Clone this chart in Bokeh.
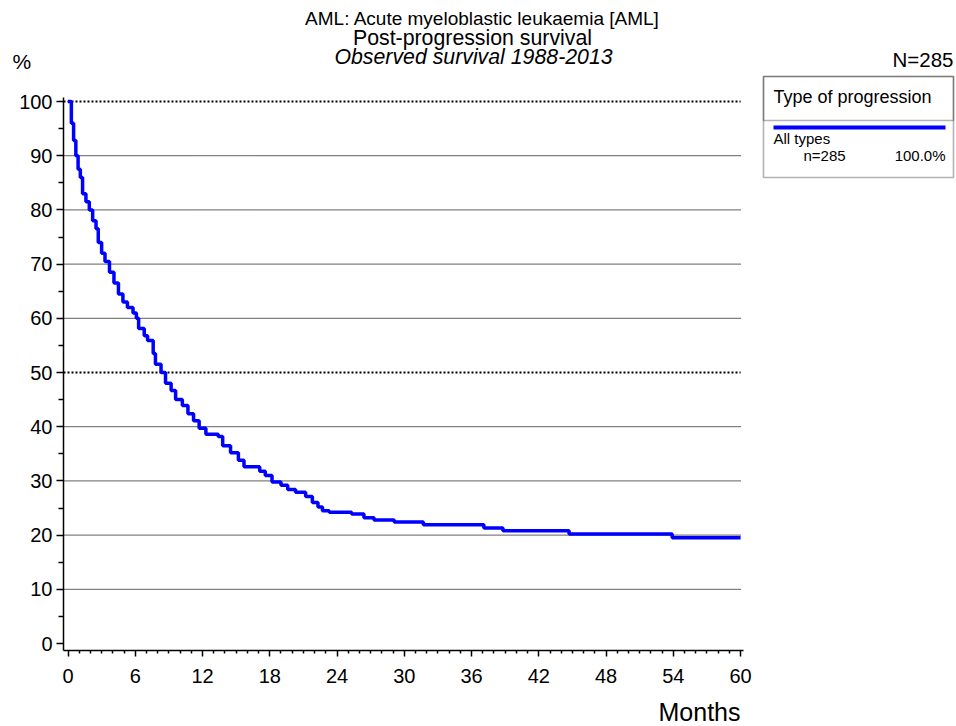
from bokeh.plotting import figure
from bokeh.models import Range1d, FixedTicker, Label, BoxAnnotation, LinearAxis, ColumnDataSource
from bokeh.embed import file_html
from bokeh.resources import INLINE

# ---------------- data ----------------
months = [0, 0.3, 0.5, 0.7, 0.9, 1.1, 1.3, 1.6, 1.9, 2.2, 2.5, 2.7, 3.0, 3.3, 3.7, 4.1, 4.5, 4.9,
          5.3, 5.8, 6.1, 6.3, 6.8, 7.1, 7.6, 7.8, 8.3, 8.7, 9.2, 9.6, 10.2, 10.7, 11.2, 11.7,
          12.3, 13.4, 13.8, 14.5, 15.2, 15.7, 17.1, 17.6, 18.2, 19.0, 19.6, 20.3, 21.2, 21.8,
          22.3, 22.7, 23.3, 25.3, 26.4, 27.3, 29.1, 31.7, 37.1, 38.8, 44.7, 53.9, 60.0]
survival = [100, 96, 92.8, 90, 87.5, 86, 83, 81.5, 80, 78, 76.5, 74, 72, 70.5, 68.5, 66.5, 64.5, 63,
            62, 61, 60, 58.1, 56.8, 55.9, 53.5, 51.5, 50, 48, 46.7, 45, 43.9, 42.4, 41.1, 39.7,
            38.6, 38.2, 36.5, 35.2, 33.8, 32.6, 31.8, 31.0, 29.8, 29.2, 28.4, 27.9, 27.1, 26.0,
            25.2, 24.5, 24.2, 23.9, 23.2, 22.8, 22.4, 21.9, 21.3, 20.8, 20.2, 19.5, 19.5]

y_major_ticks = list(range(0, 101, 10))
y_minor_ticks = list(range(5, 100, 10))
x_major_ticks = list(range(0, 61, 6))
x_minor_ticks = [m for m in range(0, 61) if m % 6]
grid_regular = [10, 20, 30, 40, 60, 70, 80, 90]
grid_bold = [50, 100]

title_lines = ["AML: Acute myeloblastic leukaemia [AML]",
               "Post-progression survival",
               "Observed survival 1988-2013"]
n_total = 285
legend_title = "Type of progression"
group_name = "All types"
group_n = 285
group_pct = 100.0
x_label = "Months"
y_label = "%"

# ---------------- layout (pixel geometry of the page) ----------------
FONT = "Liberation Sans"
W, H = 956, 726
PX0, PXS = 67.5, 11.21      # x pixel of month 0, pixels per month
PY0, PYS = 643.0, 5.42      # y pixel of 0 %, pixels per percent


def dx(sx):
    return (sx - PX0) / PXS


def dy(sy):
    return (PY0 - sy) / PYS


p = figure(width=W, height=H,
           x_range=Range1d(dx(0), dx(W)), y_range=Range1d(dy(H), dy(0)),
           output_backend="svg", toolbar_location=None,
           min_border_left=0, min_border_right=0, min_border_top=0, min_border_bottom=0,
           x_axis_type=None, y_axis_type=None)
p.outline_line_color = None
p.background_fill_color = "white"
p.border_fill_color = "white"
for g in p.grid:
    g.visible = False

# axes (placed inside the canvas at fixed locations)
xaxis = LinearAxis(ticker=FixedTicker(ticks=x_major_ticks, minor_ticks=x_minor_ticks),
                   fixed_location=dy(650), bounds=(dx(63), dx(743)))
yaxis = LinearAxis(ticker=FixedTicker(ticks=y_major_ticks, minor_ticks=y_minor_ticks),
                   fixed_location=dx(63), bounds=(dy(650), dy(97)))
for ax in (xaxis, yaxis):
    ax.axis_line_color = "black"
    ax.axis_line_width = 1.5
    ax.major_tick_line_color = "black"
    ax.major_tick_line_width = 1.5
    ax.minor_tick_line_color = "black"
    ax.minor_tick_line_width = 1.5
    ax.major_tick_in = 0
    ax.minor_tick_in = 0
    ax.major_label_text_font = FONT
    ax.major_label_text_font_size = "20px"
    ax.major_label_text_color = "black"
xaxis.major_tick_out = 6
xaxis.minor_tick_out = 3
xaxis.major_label_standoff = 12
yaxis.major_tick_out = 7
yaxis.minor_tick_out = 5
yaxis.major_label_standoff = 4
p.add_layout(xaxis, "below")
p.add_layout(yaxis, "left")

# horizontal dotted grid lines (from the y axis to the last month tick)
gx0 = dx(63)
gx1 = x_major_ticks[-1]
reg = ColumnDataSource(dict(y=grid_regular, x0=[gx0] * len(grid_regular), x1=[gx1] * len(grid_regular)))
bold = ColumnDataSource(dict(y=grid_bold, x0=[gx0] * len(grid_bold), x1=[gx1] * len(grid_bold)))
p.segment(x0="x0", x1="x1", y0="y", y1="y", source=reg, line_color="black",
          line_width=1.2, line_dash="1 1")
p.segment(x0="x0", x1="x1", y0="y", y1="y", source=bold, line_color="black",
          line_width=2, line_dash="2 2")

# survival curve
src = ColumnDataSource(dict(t=months, s=survival))
p.step("t", "s", source=src, mode="after", line_color="#0000ff", line_width=3.5)

BASE_SHIFT = 8  # rendered text sits this many px below the requested baseline


def label(text, sx, sy, size, align="left", style="normal"):
    p.add_layout(Label(x=dx(sx), y=dy(sy - BASE_SHIFT), text=text, text_font=FONT,
                       text_font_size=f"{size}px", text_align=align,
                       text_baseline="alphabetic", text_font_style=style,
                       text_color="black"))


# titles
label(title_lines[0], 482, 26, 19, "center")
label(title_lines[1], 472, 45.5, 21.3, "center")
label(title_lines[2], 473, 64.5, 21.3, "center", "italic")
label(y_label, 12, 69, 21, "left")
label(f"N={n_total}", 953, 67, 20.5, "right")
label(x_label, 740, 719, 25, "right")

# legend box
p.add_layout(BoxAnnotation(left=dx(763), right=dx(953), top=dy(76), bottom=dy(177),
                           fill_alpha=0, line_color="black", line_width=1.6))
p.add_layout(BoxAnnotation(left=dx(763), right=dx(953), top=dy(76), bottom=dy(120),
                           fill_alpha=0, line_color="black", line_width=1.6))
p.add_layout(BoxAnnotation(left=dx(773), right=dx(945), top=dy(125), bottom=dy(129),
                           fill_color="#0000ff", fill_alpha=1, line_alpha=0))
label(legend_title, 773, 104, 18, "left")
label(group_name, 773, 146, 15, "left")
label(f"n={group_n}", 803, 163, 15, "left")
label(f"{group_pct:.1f}%", 945, 163, 15, "right")

open("out.html", "w").write(file_html(p, INLINE))
